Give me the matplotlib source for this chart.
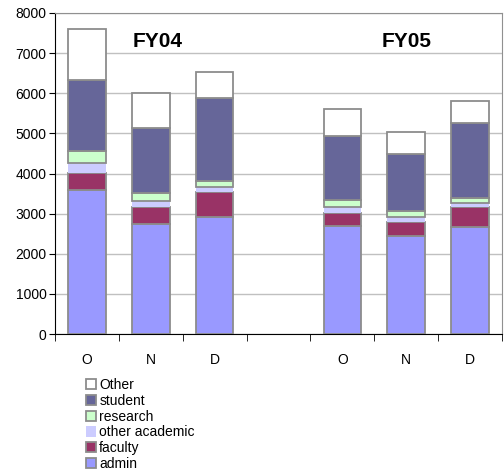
import numpy as np
import matplotlib
matplotlib.use("Agg")
import matplotlib.pyplot as plt
from matplotlib.patches import Patch

plt.rcParams['font.family'] = ['Liberation Sans', 'DejaVu Sans']

# slot 3 is the empty gap between the two fiscal years
months = ["O", "N", "D", "", "O", "N", "D"]
admin = [3580, 2745, 2925, 0, 2695, 2445, 2675]
faculty = [440, 430, 615, 0, 315, 350, 500]
other_academic = [250, 135, 135, 0, 165, 130, 100]
research = [300, 200, 150, 0, 165, 135, 115]
student = [1760, 1635, 2060, 0, 1595, 1430, 1860]
other = [1270, 870, 650, 0, 680, 550, 565]

series = [
    ("admin", admin, "#9999FF"),
    ("faculty", faculty, "#993366"),
    ("other academic", other_academic, "#CCCCFF"),
    ("research", research, "#CCFFCC"),
    ("student", student, "#666699"),
    ("Other", other, "#FFFFFF"),
]

fig = plt.figure(figsize=(5.04, 4.75), dpi=100)
ax = fig.add_axes([55/504, 1 - 334/475, (502-55)/504, (334-13)/475])

x = np.arange(len(months))
mask = np.array([m != "" for m in months])
bottom = np.zeros(len(months))
handles = []
for name, vals, col in series:
    vals = np.array(vals, dtype=float)
    edge = "none" if name == "other academic" else "#8c8c8c"
    ax.bar(x[mask], vals[mask], bottom=bottom[mask], width=0.59, color=col,
           edgecolor=edge, linewidth=1.3, zorder=3)
    bottom += vals
    handles.append(Patch(facecolor=col, edgecolor=edge, linewidth=1.3, label=name))

ax.set_xlim(-0.5, len(months) - 0.5)
ax.set_ylim(0, 8000)
ax.set_yticks(np.arange(0, 8001, 1000))
ax.yaxis.grid(True, color="#c0c0c0", linewidth=1, zorder=0)
ax.set_xticks(x)
ax.set_xticklabels(months)
ax.set_xticks(np.arange(-0.5, len(months) + 0.5, 1), minor=True)
ax.tick_params(axis="x", which="major", length=0, pad=14, labelsize=10)
ax.tick_params(axis="x", which="minor", length=5, direction="out", color="black")
ax.tick_params(axis="y", length=4, direction="out", labelsize=10, pad=2)
ax.spines["top"].set_color("#909090")
ax.spines["right"].set_color("#909090")

ax.text(1.1, 7290, "FY04", fontsize=15, fontweight="bold", ha="center", va="center")
ax.text(5.0, 7290, "FY05", fontsize=15, fontweight="bold", ha="center", va="center")

fig.legend(handles=handles[::-1], loc="upper left",
           bbox_to_anchor=(86/504, 1 - 378/475), frameon=False, fontsize=10,
           borderpad=0, handlelength=0.75, handleheight=0.75,
           handletextpad=0.2, labelspacing=0.13, borderaxespad=0)

fig.savefig("out.png", dpi=100)
